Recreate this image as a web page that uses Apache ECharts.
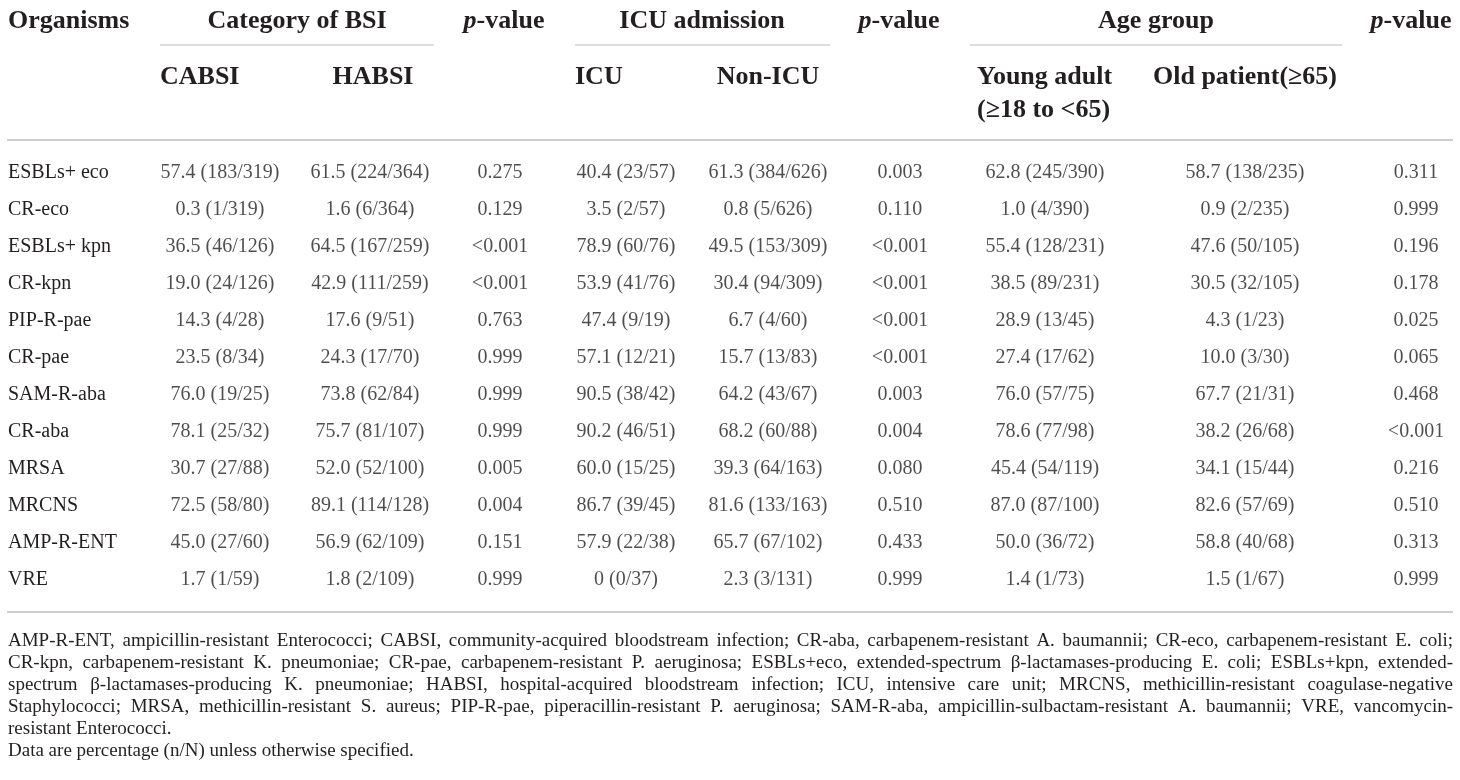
<!DOCTYPE html>
<html>
<head>
<meta charset="utf-8">
<title>Resistance by BSI category, ICU admission and age group</title>
<script src="https://cdn.jsdelivr.net/npm/echarts@6/dist/echarts.min.js"></script>
<style>
    html, body { margin: 0; padding: 0; background: #fff; }
    #chart { width: 1460px; height: 780px; }
</style>
</head>
<body>
<div id="chart"></div>
<script>
// ---- data: percentage, n, N per cell ----
const organisms = ["ESBLs+ eco", "CR-eco", "ESBLs+ kpn", "CR-kpn", "PIP-R-pae", "CR-pae",
    "SAM-R-aba", "CR-aba", "MRSA", "MRCNS", "AMP-R-ENT", "VRE"];

const cabsi = [[57.4, 183, 319], [0.3, 1, 319], [36.5, 46, 126], [19.0, 24, 126], [14.3, 4, 28], [23.5, 8, 34],
    [76.0, 19, 25], [78.1, 25, 32], [30.7, 27, 88], [72.5, 58, 80], [45.0, 27, 60], [1.7, 1, 59]];
const habsi = [[61.5, 224, 364], [1.6, 6, 364], [64.5, 167, 259], [42.9, 111, 259], [17.6, 9, 51], [24.3, 17, 70],
    [73.8, 62, 84], [75.7, 81, 107], [52.0, 52, 100], [89.1, 114, 128], [56.9, 62, 109], [1.8, 2, 109]];
const pBsi = ["0.275", "0.129", "<0.001", "<0.001", "0.763", "0.999", "0.999", "0.999", "0.005", "0.004", "0.151", "0.999"];

const icu = [[40.4, 23, 57], [3.5, 2, 57], [78.9, 60, 76], [53.9, 41, 76], [47.4, 9, 19], [57.1, 12, 21],
    [90.5, 38, 42], [90.2, 46, 51], [60.0, 15, 25], [86.7, 39, 45], [57.9, 22, 38], [0, 0, 37]];
const nonIcu = [[61.3, 384, 626], [0.8, 5, 626], [49.5, 153, 309], [30.4, 94, 309], [6.7, 4, 60], [15.7, 13, 83],
    [64.2, 43, 67], [68.2, 60, 88], [39.3, 64, 163], [81.6, 133, 163], [65.7, 67, 102], [2.3, 3, 131]];
const pIcu = ["0.003", "0.110", "<0.001", "<0.001", "<0.001", "<0.001", "0.003", "0.004", "0.080", "0.510", "0.433", "0.999"];

const young = [[62.8, 245, 390], [1.0, 4, 390], [55.4, 128, 231], [38.5, 89, 231], [28.9, 13, 45], [27.4, 17, 62],
    [76.0, 57, 75], [78.6, 77, 98], [45.4, 54, 119], [87.0, 87, 100], [50.0, 36, 72], [1.4, 1, 73]];
const old = [[58.7, 138, 235], [0.9, 2, 235], [47.6, 50, 105], [30.5, 32, 105], [4.3, 1, 23], [10.0, 3, 30],
    [67.7, 21, 31], [38.2, 26, 68], [34.1, 15, 44], [82.6, 57, 69], [58.8, 40, 68], [1.5, 1, 67]];
const pAge = ["0.311", "0.999", "0.196", "0.178", "0.025", "0.065", "0.468", "<0.001", "0.216", "0.510", "0.313", "0.999"];

// ---- header / note texts ----
const firstHeader = "Organisms";
const groupHeaders = ["Category of BSI", "ICU admission", "Age group"];
const subHeaders = ["CABSI", "HABSI", "ICU", "Non-ICU", "Young adult\n(≥18 to <65)", "Old patient(≥65)"];
const noteLines = [
    "AMP-R-ENT, ampicillin-resistant Enterococci; CABSI, community-acquired bloodstream infection; CR-aba, carbapenem-resistant A. baumannii; CR-eco, carbapenem-resistant E. coli;",
    "CR-kpn, carbapenem-resistant K. pneumoniae; CR-pae, carbapenem-resistant P. aeruginosa; ESBLs+eco, extended-spectrum β-lactamases-producing E. coli; ESBLs+kpn, extended-",
    "spectrum β-lactamases-producing K. pneumoniae; HABSI, hospital-acquired bloodstream infection; ICU, intensive care unit; MRCNS, methicillin-resistant coagulase-negative",
    "Staphylococci; MRSA, methicillin-resistant S. aureus; PIP-R-pae, piperacillin-resistant P. aeruginosa; SAM-R-aba, ampicillin-sulbactam-resistant A. baumannii; VRE, vancomycin-",
    "resistant Enterococci.",
    "Data are percentage (n/N) unless otherwise specified."
];

// ---- layout ----
const FONT = '"Liberation Serif", "DejaVu Serif", serif';
const INK = "#231f20";
const RULE = "#bcbcbc";
const LEFT = 7, RIGHT = 1453;
const ROW_TOP = 154, ROW_H = 37;
// column centres on the x scale (0..1460)
const COL_X = [220, 370, 500, 626, 768, 900, 1045, 1245, 1416];
const groupX = [297, 702, 1156];
const pHeadX = [504, 899, 1411];
const underlines = [[160, 434], [575, 830], [970, 1342]];
const subPos = [[160, "left"], [373, "center"], [575, "left"], [768, "center"], [977, "left"], [1245, "center"]];

function pct(v) { return v === 0 ? "0" : v.toFixed(1); }
function cell(c) { return pct(c[0]) + " (" + c[1] + "/" + c[2] + ")"; }

const columns = [
    cabsi.map(cell), habsi.map(cell), pBsi,
    icu.map(cell), nonIcu.map(cell), pIcu,
    young.map(cell), old.map(cell), pAge
];

// ---- graphic: headers, rules, note ----
let graphic = [];

function txt(x, y, text, font, align, extra) {
    return {
        type: "text", x: x, y: y, silent: true,
        style: Object.assign({
            text: text, font: font, fill: INK,
            align: align, textAlign: align,
            verticalAlign: "middle", textVerticalAlign: "middle"
        }, extra || {})
    };
}
function rule(x1, x2, y, w) {
    return { type: "line", silent: true, shape: { x1: x1, y1: y, x2: x2, y2: y }, style: { stroke: RULE, lineWidth: w || 1.5 } };
}

const HEAD = "bold 26px " + FONT;
graphic.push(txt(8, 21, firstHeader, HEAD, "left"));
groupHeaders.forEach((g, i) => graphic.push(txt(groupX[i], 21, g, HEAD, "center")));
pHeadX.forEach(x => graphic.push(txt(x, 21, "{i|p}{b|-value}", HEAD, "center", {
    rich: {
        i: { fontStyle: "italic", fontWeight: "bold", fontSize: 26, fontFamily: FONT, fill: INK },
        b: { fontWeight: "bold", fontSize: 26, fontFamily: FONT, fill: INK }
    }
})));
underlines.forEach(u => graphic.push(rule(u[0], u[1], 45, 1.2)));
subHeaders.forEach((s, i) => graphic.push(txt(subPos[i][0], 60.5, s, HEAD, subPos[i][1], {
    verticalAlign: "top", textVerticalAlign: "top", lineHeight: 33
})));
graphic.push(rule(LEFT, RIGHT, 140));
graphic.push(rule(LEFT, RIGHT, 612));

// justified note lines
const NOTE_FONT = "19px " + FONT;
const NOTE_Y = [641, 663, 685, 707, 729, 751];
const ctx = document.createElement("canvas").getContext("2d");
ctx.font = NOTE_FONT;
noteLines.forEach((line, i) => {
    if (i >= 4) {
        graphic.push(txt(8, NOTE_Y[i], line, NOTE_FONT, "left"));
        return;
    }
    let words = line.split(" ");
    let widths = words.map(w => ctx.measureText(w).width);
    let gap = (RIGHT - 8 - widths.reduce((a, b) => a + b, 0)) / (words.length - 1);
    let x = 8;
    words.forEach((w, k) => {
        graphic.push(txt(x, NOTE_Y[i], w, NOTE_FONT, "left"));
        x += widths[k] + gap;
    });
});

// ---- chart ----
const chart = echarts.init(document.getElementById("chart"));
chart.setOption({
    animation: false,
    grid: { left: 0, right: 0, top: ROW_TOP, height: ROW_H * organisms.length },
    xAxis: { type: "value", min: 0, max: 1460, show: false },
    yAxis: {
        type: "category", inverse: true, data: organisms,
        axisLine: { show: false }, axisTick: { show: false }, splitLine: { show: false },
        axisLabel: { inside: true, margin: 8, fontFamily: FONT, fontSize: 20, color: INK }
    },
    series: columns.map((col, j) => ({
        type: "scatter",
        silent: true,
        symbolSize: 1,
        itemStyle: { color: "transparent" },
        data: col.map((t, i) => [COL_X[j], i]),
        label: {
            show: true, position: "inside",
            formatter: p => col[p.dataIndex],
            fontFamily: FONT, fontSize: 20, color: INK
        }
    })),
    graphic: graphic
});
</script>
</body>
</html>
